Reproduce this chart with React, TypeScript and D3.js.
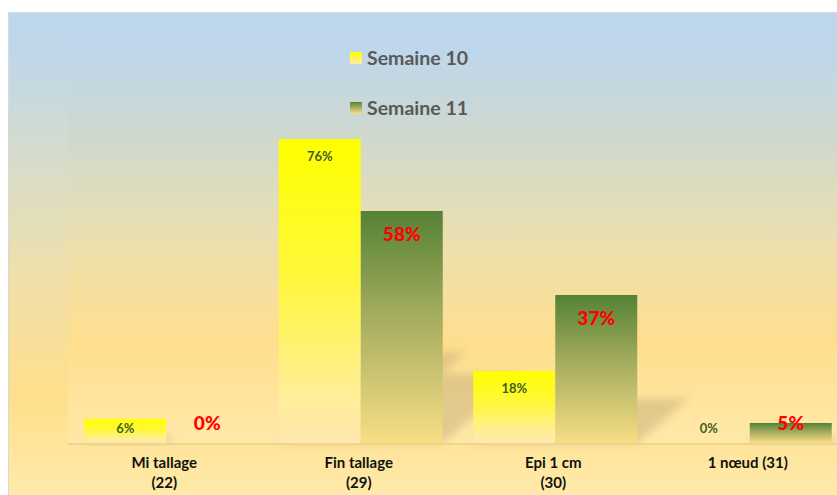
import React from "react";
import * as d3 from "d3";

const categories: string[][] = [["Mi tallage", "(22)"], ["Fin tallage", "(29)"], ["Epi 1 cm", "(30)"], ["1 nœud (31)"]];
const seriesNames = ["Semaine 10", "Semaine 11"];
const semaine10 = [0.06, 0.76, 0.18, 0.0];
const semaine11 = [0.0, 0.58, 0.37, 0.05];

const W = 837;
const H = 495;
const FONT = "Lato, 'Open Sans', sans-serif";

export default function App() {
  const plotTop = 43;
  const base = 443;
  const x = d3.scaleBand<number>().domain(d3.range(categories.length)).range([69, 847]).paddingInner(0).paddingOuter(0);
  const inner = d3.scaleBand<number>().domain([0, 1]).range([0, x.bandwidth()]).paddingOuter(0.186).paddingInner(0);
  const y = d3.scaleLinear().domain([0, 1]).range([base, plotTop]);
  const series = [semaine10, semaine11];
  const fills = ["url(#gY)", "url(#gG)"];

  return (
    <svg width={W} height={H} style={{ position: "absolute", left: 0, top: 0 }} xmlns="http://www.w3.org/2000/svg">
      <defs>
        <linearGradient id="bgOuter" x1="0" y1="0" x2="0" y2="1">
          <stop offset="0" stopColor="#BDD6EE" />
          <stop offset="0.12" stopColor="#C2D7E6" />
          <stop offset="0.3" stopColor="#D6DCCB" />
          <stop offset="0.55" stopColor="#F0E0AA" />
          <stop offset="0.8" stopColor="#FFDF8C" />
          <stop offset="1" stopColor="#FFEAAA" />
        </linearGradient>
        <linearGradient id="bgPlot" x1="0" y1="0" x2="0" y2="1">
          <stop offset="0" stopColor="#BDD7EE" />
          <stop offset="0.2" stopColor="#CCD8D2" />
          <stop offset="0.5" stopColor="#EDDFAE" />
          <stop offset="0.75" stopColor="#FFDF8E" />
          <stop offset="1" stopColor="#FFE8A8" />
        </linearGradient>
        <linearGradient id="gY" x1="0" y1="0" x2="0" y2="1">
          <stop offset="0" stopColor="#FFFF00" />
          <stop offset="0.45" stopColor="#FFF73A" />
          <stop offset="0.85" stopColor="#FFEE99" />
          <stop offset="1" stopColor="#FFE7B0" />
        </linearGradient>
        <linearGradient id="gG" x1="0" y1="0" x2="0" y2="1">
          <stop offset="0" stopColor="#548235" />
          <stop offset="0.45" stopColor="#A4AC5E" />
          <stop offset="1" stopColor="#F8DE86" />
        </linearGradient>
        <filter id="blur" x="-50%" y="-50%" width="200%" height="200%">
          <feGaussianBlur stdDeviation="4" />
        </filter>
      </defs>
      <rect x={9} y={12} width={W - 9} height={H - 12} fill="url(#bgOuter)" />
      <line x1={8.5} y1={12} x2={8.5} y2={H} stroke="#D9D9D9" />
      <line x1={8} y1={12.5} x2={W} y2={12.5} stroke="#D9D9D9" />
      <rect x={68} y={44} width={W - 68} height={base - 44} fill="url(#bgPlot)" />

      {/* shadows */}
      {series.map((vals, s) =>
        vals.map((v, i) => {
          if (v <= 0) return null;
          const x0 = (x(i) as number) + (inner(s) as number);
          const x1 = x0 + inner.bandwidth();
          const h = base - y(v);
          const sh = h * 0.3;
          const dx = h * 0.35;
          return (
            <path key={`sh${s}${i}`} d={`M${x0},${base} L${x1},${base} L${x1 + dx},${base - sh} L${x0 + dx},${base - sh} Z`}
              fill="#B8A070" opacity={0.4} filter="url(#blur)" />
          );
        })
      )}
      <line x1={68} x2={W} y1={base + 1} y2={base + 1} stroke="#EFD48A" strokeWidth={2} />

      {series.map((vals, s) =>
        vals.map((v, i) => {
          const x0 = (x(i) as number) + (inner(s) as number);
          const h = base - y(v);
          if (h <= 0) return null;
          return <rect key={`b${s}${i}`} x={x0} y={y(v)} width={inner.bandwidth()} height={h} fill={fills[s]} />;
        })
      )}

      {/* labels */}
      {semaine10.map((v, i) => {
        const cx = (x(i) as number) + (inner(0) as number) + inner.bandwidth() / 2;
        const cy = Math.min(y(v) + 17, 428);
        return (
          <text key={`l0${i}`} x={cx} y={cy} dy="0.35em" textAnchor="middle" fontFamily={FONT} fontWeight="bold" fontSize={13} fill="#3F5F22">
            {Math.round(v * 100)}%
          </text>
        );
      })}
      {semaine11.map((v, i) => {
        const cx = (x(i) as number) + (inner(1) as number) + inner.bandwidth() / 2;
        const cy = Math.min(y(v) + 23, 423);
        return (
          <text key={`l1${i}`} x={cx} y={cy} dy="0.35em" textAnchor="middle" fontFamily={FONT} fontWeight="900" fontSize={19} fill="#FF0000">
            {Math.round(v * 100)}%
          </text>
        );
      })}

      {/* category axis */}
      {categories.map((lines, i) => {
        const cx = (x(i) as number) + x.bandwidth() / 2 - 2;
        return (
          <text key={`c${i}`} textAnchor="middle" fontFamily={FONT} fontWeight="bold" fontSize={15} fill="#111111">
            {lines.map((ln, k) => (
              <tspan key={k} x={cx} y={463 + k * 20} dy="0.35em">{ln}</tspan>
            ))}
          </text>
        );
      })}

      {/* legend */}
      {seriesNames.map((name, s) => {
        const ly = 58 + s * 50;
        return (
          <g key={`lg${s}`}>
            <rect x={350} y={ly - 6} width={12} height={12} fill={fills[s]} />
            <text x={367} y={ly} dy="0.35em" fontFamily={FONT} fontWeight="bold" fontSize={19.5} fill="#595959">{name}</text>
          </g>
        );
      })}
    </svg>
  );
}
